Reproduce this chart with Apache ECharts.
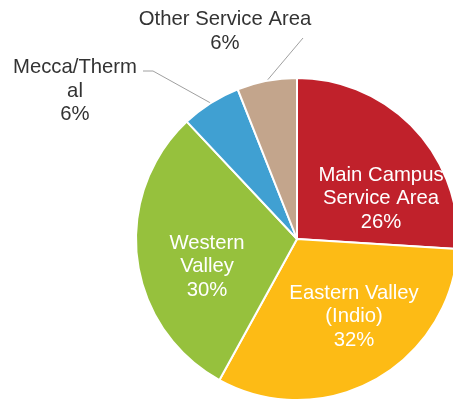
<!DOCTYPE html>
<html>
<head>
<meta charset="utf-8">
<script src="https://cdn.jsdelivr.net/npm/echarts@6/dist/echarts.min.js"></script>
<style>
  html, body { margin: 0; padding: 0; background: #ffffff; }
  #chart { width: 453px; height: 400px; }
</style>
</head>
<body>
<div id="chart"></div>
<script>
// Share of students by service area (percent), clockwise from 12 o'clock
var areaNames = [
  'Main Campus\nService Area',
  'Eastern Valley\n(Indio)',
  'Western\nValley',
  'Mecca/Therm\nal',
  'Other Service Area'
];
var areaShares = [26, 32, 30, 6, 6];

// Slice colours and label placement
var sliceColors = ['#C0212B', '#FDBB15', '#96C13D', '#40A0D2', '#C3A58C'];
var labelInside = [true, true, true, false, false];
var labelCenters = [[381, 198.5], [354, 316.5], [207, 266.5], [75, 91], [225, 31.5]];
// Where each outside leader line meets its label (elbow, end)
var leaderEnds = [null, null, null, [[153, 71], [143, 71]], [[303, 38], [303, 38]]];

var seriesData = areaNames.map(function (name, i) {
  var inside = labelInside[i];
  return {
    name: name,
    value: areaShares[i],
    itemStyle: { color: sliceColors[i] },
    label: {
      position: inside ? 'inside' : 'outside',
      color: inside ? '#ffffff' : '#333333'
    },
    labelLine: { show: !inside }
  };
});

var chart = echarts.init(document.getElementById('chart'), null, { renderer: 'canvas' });
chart.setOption({
  animation: false,
  backgroundColor: '#ffffff',
  series: [{
    type: 'pie',
    center: [297, 239],
    radius: 161,
    startAngle: 90,
    clockwise: true,
    avoidLabelOverlap: false,
    itemStyle: { borderColor: '#ffffff', borderWidth: 2 },
    label: {
      show: true,
      fontFamily: 'Liberation Sans, Arial, sans-serif',
      fontSize: 20.3,
      lineHeight: 23.5,
      align: 'center',
      formatter: function (p) { return p.name + '\n' + p.value + '%'; }
    },
    labelLine: {
      show: true,
      smooth: false,
      lineStyle: { color: '#a0a0a0', width: 1 }
    },
    labelLayout: function (params) {
      var i = params.dataIndex;
      var c = labelCenters[i];
      var out = { x: c[0], y: c[1], align: 'center', verticalAlign: 'middle' };
      if (leaderEnds[i] && params.labelLinePoints) {
        out.labelLinePoints = [params.labelLinePoints[0], leaderEnds[i][0], leaderEnds[i][1]];
      }
      return out;
    },
    data: seriesData
  }]
});
</script>
</body>
</html>
